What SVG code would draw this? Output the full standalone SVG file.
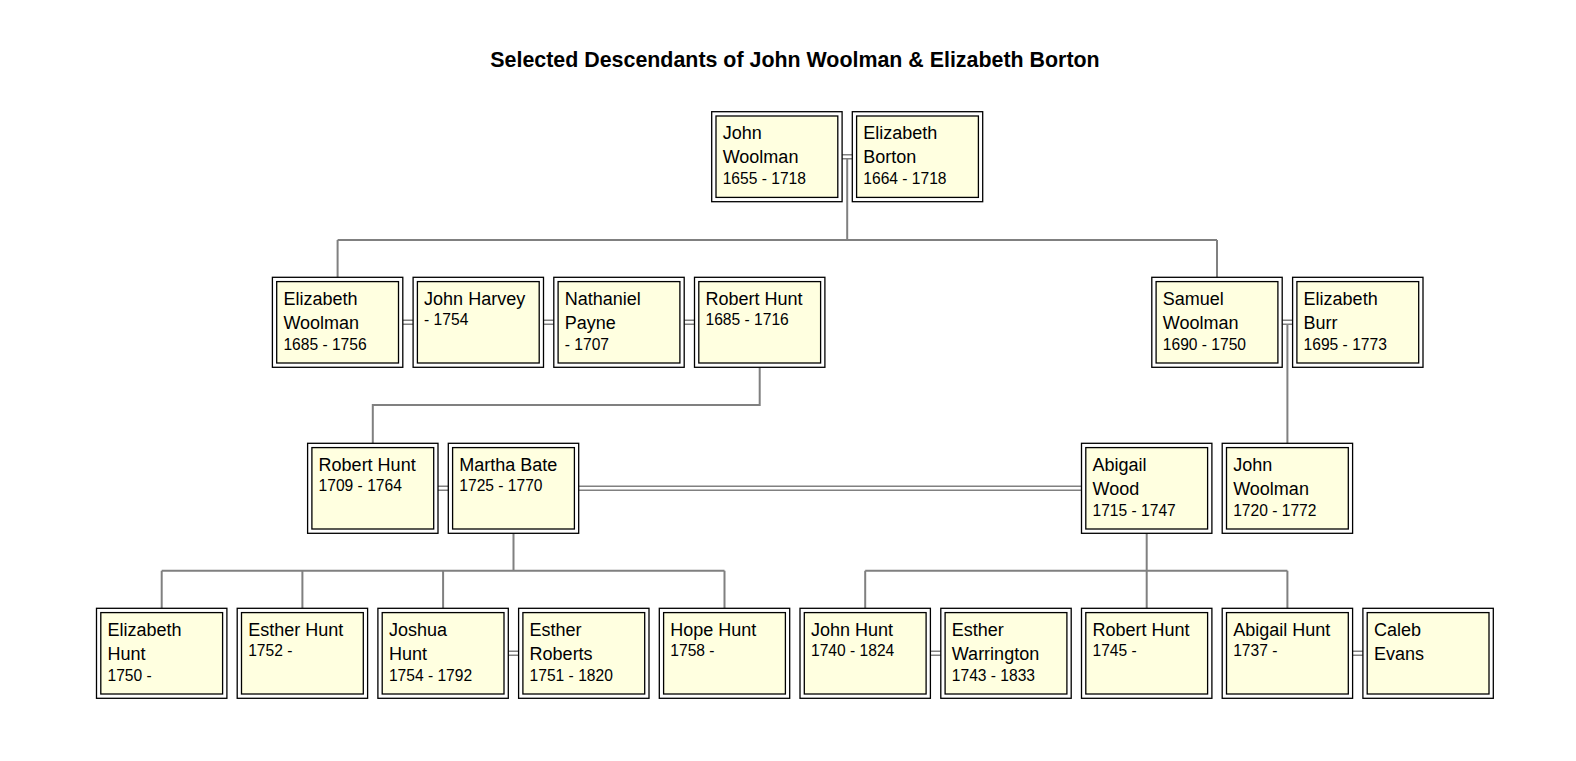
<svg xmlns="http://www.w3.org/2000/svg" width="1576" height="761" viewBox="0 0 1576 761">
<style>
.o{fill:#ffffff;stroke:#000;stroke-width:1.3}
.i{fill:#ffffe0;stroke:#000;stroke-width:1.3}
.n{font-family:"Liberation Sans",Arial,sans-serif;font-size:18px;fill:#000}
.d{font-family:"Liberation Sans",Arial,sans-serif;font-size:15.6px;fill:#000}
.t{font-family:"Liberation Sans",Arial,sans-serif;font-size:21.4px;font-weight:bold;fill:#000}
.l{stroke:#808080;stroke-width:2;fill:none}
.m{stroke:#808080;stroke-width:1.5;fill:none}
</style>
<rect width="1576" height="761" fill="#fff"/>
<text class="t" x="795" y="67.3" text-anchor="middle">Selected Descendants of John Woolman &amp; Elizabeth Borton</text>

<g id="connectors">
<!-- row1 marriage -->
<path class="m" d="M842.1 154.7H852.3M842.1 158.7H852.3"/>
<path class="l" d="M847.2 158.7V240M337.6 240H1217M337.6 240V277.3M1217 240V277.3"/>
<!-- row2 marriages -->
<path class="m" d="M402.8 320.3H413.1M402.8 324.3H413.1M543.5 320.3H553.8M543.5 324.3H553.8M684.2 320.3H694.5M684.2 324.3H694.5M1282.2 320.3H1292.6M1282.2 324.3H1292.6"/>
<path class="l" d="M759.7 367.3V405H372.8V443.3"/>
<path class="l" d="M1287.4 324.3V443.3"/>
<!-- row3 marriages -->
<path class="m" d="M438 486.3H448.3M438 490.3H448.3M578.7 486.3H1081.5M578.7 490.3H1081.5"/>
<path class="l" d="M513.5 533.3V570.7M161.7 570.7H724.5M161.7 570.7V608.3M302.4 570.7V608.3M443.1 570.7V608.3M724.5 570.7V608.3"/>
<path class="l" d="M1146.7 533.3V608.3M865.2 570.7H1287.4M865.2 570.7V608.3M1287.4 570.7V608.3"/>
<!-- row4 marriages -->
<path class="m" d="M508.3 651.3H518.6M508.3 655.3H518.6M930.4 651.3H940.8M930.4 655.3H940.8M1352.6 651.3H1362.9M1352.6 655.3H1362.9"/>
</g>

<!-- Row 1 -->
<g id="john-woolman-1655">
<rect class="o" x="711.7" y="111.7" width="130.4" height="90"/><rect class="i" x="716" y="116" width="121.8" height="81.4"/>
<text class="n" x="722.7" y="139.3">John</text><text class="n" x="722.7" y="163.3">Woolman</text><text class="d" x="722.7" y="184">1655 - 1718</text>
</g>
<g id="elizabeth-borton">
<rect class="o" x="852.3" y="111.7" width="130.4" height="90"/><rect class="i" x="856.6" y="116" width="121.8" height="81.4"/>
<text class="n" x="863.3" y="139.3">Elizabeth</text><text class="n" x="863.3" y="163.3">Borton</text><text class="d" x="863.3" y="184">1664 - 1718</text>
</g>

<!-- Row 2 -->
<g id="elizabeth-woolman">
<rect class="o" x="272.4" y="277.3" width="130.4" height="90"/><rect class="i" x="276.7" y="281.6" width="121.8" height="81.4"/>
<text class="n" x="283.4" y="304.9">Elizabeth</text><text class="n" x="283.4" y="328.9">Woolman</text><text class="d" x="283.4" y="349.6">1685 - 1756</text>
</g>
<g id="john-harvey">
<rect class="o" x="413.1" y="277.3" width="130.4" height="90"/><rect class="i" x="417.4" y="281.6" width="121.8" height="81.4"/>
<text class="n" x="424.1" y="304.9">John Harvey</text><text class="d" x="424.1" y="325">- 1754</text>
</g>
<g id="nathaniel-payne">
<rect class="o" x="553.8" y="277.3" width="130.4" height="90"/><rect class="i" x="558.1" y="281.6" width="121.8" height="81.4"/>
<text class="n" x="564.8" y="304.9">Nathaniel</text><text class="n" x="564.8" y="328.9">Payne</text><text class="d" x="564.8" y="349.6">- 1707</text>
</g>
<g id="robert-hunt-1685">
<rect class="o" x="694.5" y="277.3" width="130.4" height="90"/><rect class="i" x="698.8" y="281.6" width="121.8" height="81.4"/>
<text class="n" x="705.5" y="304.9">Robert Hunt</text><text class="d" x="705.5" y="325">1685 - 1716</text>
</g>
<g id="samuel-woolman">
<rect class="o" x="1151.8" y="277.3" width="130.4" height="90"/><rect class="i" x="1156.1" y="281.6" width="121.8" height="81.4"/>
<text class="n" x="1162.8" y="304.9">Samuel</text><text class="n" x="1162.8" y="328.9">Woolman</text><text class="d" x="1162.8" y="349.6">1690 - 1750</text>
</g>
<g id="elizabeth-burr">
<rect class="o" x="1292.6" y="277.3" width="130.4" height="90"/><rect class="i" x="1296.9" y="281.6" width="121.8" height="81.4"/>
<text class="n" x="1303.6" y="304.9">Elizabeth</text><text class="n" x="1303.6" y="328.9">Burr</text><text class="d" x="1303.6" y="349.6">1695 - 1773</text>
</g>

<!-- Row 3 -->
<g id="robert-hunt-1709">
<rect class="o" x="307.6" y="443.3" width="130.4" height="90"/><rect class="i" x="311.9" y="447.6" width="121.8" height="81.4"/>
<text class="n" x="318.6" y="470.9">Robert Hunt</text><text class="d" x="318.6" y="491">1709 - 1764</text>
</g>
<g id="martha-bate">
<rect class="o" x="448.3" y="443.3" width="130.4" height="90"/><rect class="i" x="452.6" y="447.6" width="121.8" height="81.4"/>
<text class="n" x="459.3" y="470.9">Martha Bate</text><text class="d" x="459.3" y="491">1725 - 1770</text>
</g>
<g id="abigail-wood">
<rect class="o" x="1081.5" y="443.3" width="130.4" height="90"/><rect class="i" x="1085.8" y="447.6" width="121.8" height="81.4"/>
<text class="n" x="1092.5" y="470.9">Abigail</text><text class="n" x="1092.5" y="494.9">Wood</text><text class="d" x="1092.5" y="515.6">1715 - 1747</text>
</g>
<g id="john-woolman-1720">
<rect class="o" x="1222.2" y="443.3" width="130.4" height="90"/><rect class="i" x="1226.5" y="447.6" width="121.8" height="81.4"/>
<text class="n" x="1233.2" y="470.9">John</text><text class="n" x="1233.2" y="494.9">Woolman</text><text class="d" x="1233.2" y="515.6">1720 - 1772</text>
</g>

<!-- Row 4 -->
<g id="elizabeth-hunt">
<rect class="o" x="96.5" y="608.3" width="130.4" height="90"/><rect class="i" x="100.8" y="612.6" width="121.8" height="81.4"/>
<text class="n" x="107.5" y="635.9">Elizabeth</text><text class="n" x="107.5" y="659.9">Hunt</text><text class="d" x="107.5" y="680.6">1750 -</text>
</g>
<g id="esther-hunt">
<rect class="o" x="237.2" y="608.3" width="130.4" height="90"/><rect class="i" x="241.5" y="612.6" width="121.8" height="81.4"/>
<text class="n" x="248.2" y="635.9">Esther Hunt</text><text class="d" x="248.2" y="656">1752 -</text>
</g>
<g id="joshua-hunt">
<rect class="o" x="377.9" y="608.3" width="130.4" height="90"/><rect class="i" x="382.2" y="612.6" width="121.8" height="81.4"/>
<text class="n" x="388.9" y="635.9">Joshua</text><text class="n" x="388.9" y="659.9">Hunt</text><text class="d" x="388.9" y="680.6">1754 - 1792</text>
</g>
<g id="esther-roberts">
<rect class="o" x="518.6" y="608.3" width="130.4" height="90"/><rect class="i" x="522.9" y="612.6" width="121.8" height="81.4"/>
<text class="n" x="529.6" y="635.9">Esther</text><text class="n" x="529.6" y="659.9">Roberts</text><text class="d" x="529.6" y="680.6">1751 - 1820</text>
</g>
<g id="hope-hunt">
<rect class="o" x="659.3" y="608.3" width="130.4" height="90"/><rect class="i" x="663.6" y="612.6" width="121.8" height="81.4"/>
<text class="n" x="670.3" y="635.9">Hope Hunt</text><text class="d" x="670.3" y="656">1758 -</text>
</g>
<g id="john-hunt">
<rect class="o" x="800" y="608.3" width="130.4" height="90"/><rect class="i" x="804.3" y="612.6" width="121.8" height="81.4"/>
<text class="n" x="811" y="635.9">John Hunt</text><text class="d" x="811" y="656">1740 - 1824</text>
</g>
<g id="esther-warrington">
<rect class="o" x="940.8" y="608.3" width="130.4" height="90"/><rect class="i" x="945.1" y="612.6" width="121.8" height="81.4"/>
<text class="n" x="951.8" y="635.9">Esther</text><text class="n" x="951.8" y="659.9">Warrington</text><text class="d" x="951.8" y="680.6">1743 - 1833</text>
</g>
<g id="robert-hunt-1745">
<rect class="o" x="1081.5" y="608.3" width="130.4" height="90"/><rect class="i" x="1085.8" y="612.6" width="121.8" height="81.4"/>
<text class="n" x="1092.5" y="635.9">Robert Hunt</text><text class="d" x="1092.5" y="656">1745 -</text>
</g>
<g id="abigail-hunt">
<rect class="o" x="1222.2" y="608.3" width="130.4" height="90"/><rect class="i" x="1226.5" y="612.6" width="121.8" height="81.4"/>
<text class="n" x="1233.2" y="635.9">Abigail Hunt</text><text class="d" x="1233.2" y="656">1737 -</text>
</g>
<g id="caleb-evans">
<rect class="o" x="1362.9" y="608.3" width="130.4" height="90"/><rect class="i" x="1367.2" y="612.6" width="121.8" height="81.4"/>
<text class="n" x="1373.9" y="635.9">Caleb</text><text class="n" x="1373.9" y="659.9">Evans</text>
</g>
</svg>
